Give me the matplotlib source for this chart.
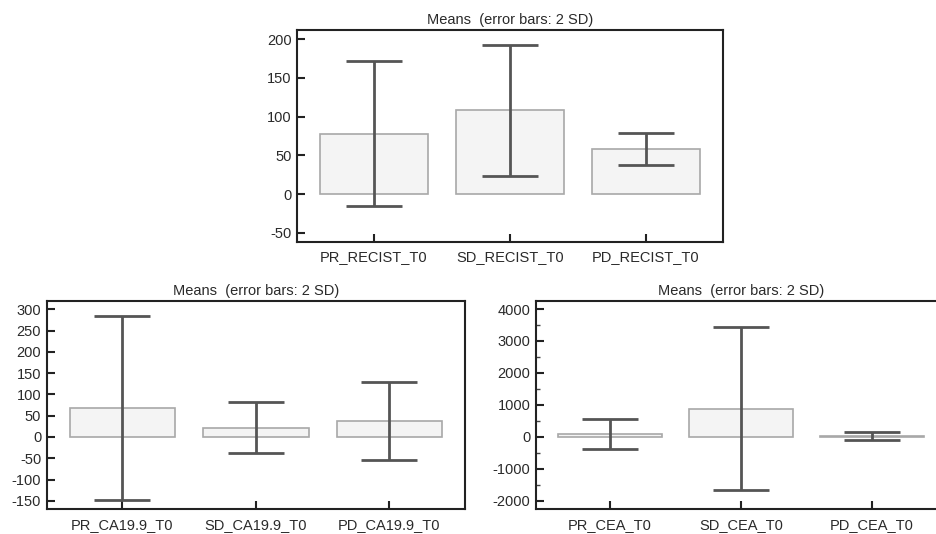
import matplotlib
matplotlib.use("Agg")
import matplotlib.pyplot as plt
from matplotlib.ticker import MultipleLocator

plt.rcParams['font.family'] = ['Liberation Sans', 'DejaVu Sans']
plt.rcParams['axes.unicode_minus'] = False

title = "Means  (error bars: 2 SD)"

recist_labels = ["PR_RECIST_T0", "SD_RECIST_T0", "PD_RECIST_T0"]
recist_means = [78, 108, 58]
recist_err = [94, 84.5, 20.5]

ca_labels = ["PR_CA19.9_T0", "SD_CA19.9_T0", "PD_CA19.9_T0"]
ca_means = [68, 21.5, 36.5]
ca_err = [215, 59.5, 91.5]

cea_labels = ["PR_CEA_T0", "SD_CEA_T0", "PD_CEA_T0"]
cea_means = [78, 880, 22]
cea_err = [465, 2546, 125]

fig = plt.figure(figsize=(9.36, 5.34), dpi=100)

W, H = 936, 534
def pos(l, r, t, b):
    return [l / W, 1 - b / H, (r - l) / W, (b - t) / H]

specs = [
    (pos(297, 723, 30, 242), recist_labels, recist_means, recist_err, (-62, 212), 50, None),
    (pos(46.7, 465, 300.7, 509.3), ca_labels, ca_means, ca_err, (-170, 320), 50, None),
    (pos(536, 946, 300.7, 509.3), cea_labels, cea_means, cea_err, (-2270, 4260), 1000, 500),
]

dark = "#555555"
txt = "#2a2a2a"
for rect, labels, means, errs, ylim, major, minor in specs:
    ax = fig.add_axes(rect)
    x = list(range(len(labels)))
    ax.bar(x, means, width=0.79, color="#f4f4f4", edgecolor="#a8a8a8", linewidth=1.2, zorder=1)
    ax.errorbar(x, means, yerr=errs, fmt="none", ecolor=dark, elinewidth=2,
                capsize=20, capthick=2, zorder=2)
    ax.set_xlim(-0.566, 2.566)
    ax.set_ylim(*ylim)
    ax.set_xticks(x)
    ax.set_xticklabels(labels)
    ax.yaxis.set_major_locator(MultipleLocator(major))
    if minor:
        ax.yaxis.set_minor_locator(MultipleLocator(minor))
    ax.tick_params(axis="both", which="major", direction="in", length=6, width=1.5,
                   color="#222222", labelsize=10.5, labelcolor=txt, pad=4)
    ax.tick_params(axis="y", which="minor", direction="in", length=3, width=1, color="#444444")
    ax.tick_params(axis="x", which="major", pad=6)
    for s in ax.spines.values():
        s.set_linewidth(1.5)
        s.set_color("#222222")
    ax.set_title(title, fontsize=10.5, color=txt, pad=4)

fig.savefig("out.png", dpi=100)
